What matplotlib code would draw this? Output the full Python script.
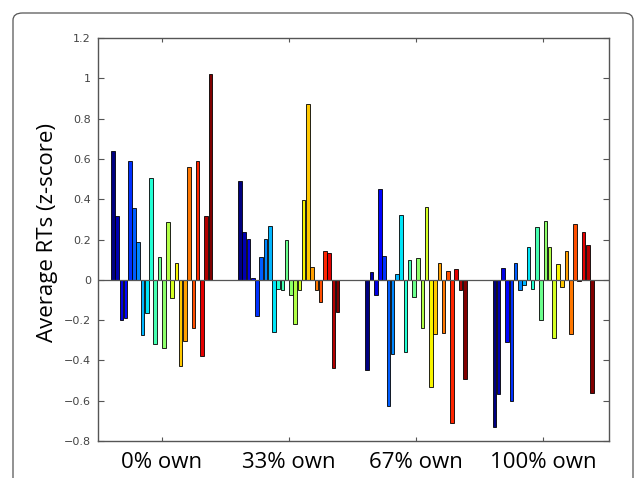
import numpy as np
import matplotlib.pyplot as plt
from matplotlib.patches import FancyBboxPatch

# group labels
groups = ['0% own', '33% own', '67% own', '100% own']

# average RTs (z-score), 24 bars per group
own_0 = [0.64, 0.317, -0.20, -0.19, 0.59, 0.357, 0.19, -0.274, -0.166, 0.503, -0.32, 0.113,
         -0.34, 0.287, -0.09, 0.083, -0.43, -0.305, 0.558, -0.24, 0.59, -0.377, 0.317, 1.02]
own_33 = [0.488, 0.237, 0.204, 0.01, -0.178, 0.113, 0.204, 0.266, -0.26, -0.045, -0.053, 0.20,
          -0.075, -0.22, -0.053, 0.395, 0.873, 0.063, -0.053, -0.108, 0.141, 0.133, -0.438, -0.161]
own_67 = [-0.446, 0.038, -0.073, 0.45, 0.116, -0.627, -0.368, 0.027, 0.324, -0.357, 0.096, -0.083,
          0.108, -0.239, 0.362, -0.534, -0.269, 0.083, -0.266, 0.045, -0.709, 0.055, -0.053, -0.49]
own_100 = [-0.732, -0.569, 0.061, -0.307, -0.602, 0.081, -0.051, -0.027, 0.164, -0.046, 0.264, -0.199,
           0.29, 0.161, -0.29, 0.078, -0.035, 0.141, -0.267, 0.277, -0.005, 0.236, 0.174, -0.563]

data = np.array([own_0, own_33, own_67, own_100])
n_bars = data.shape[1]
colors = plt.cm.jet(np.linspace(0, 1, n_bars))

fig = plt.figure(figsize=(6.35, 4.78), dpi=100)

# rounded frame around the figure
frame = FancyBboxPatch((13 / 635, -0.1), (633 - 13) / 635, 1.1 - 13 / 478,
                       boxstyle='round,pad=0,rounding_size=0.015',
                       transform=fig.transFigure, facecolor='none',
                       edgecolor='#555555', linewidth=0.9, clip_on=False)
fig.patches.append(frame)

ax = fig.add_axes([98 / 635, 1 - 441 / 478, (608.7 - 98) / 635, (441 - 38) / 478])

pitch = 0.8 / n_bars
x = np.arange(1, len(groups) + 1)
for i in range(n_bars):
    offs = (i - (n_bars - 1) / 2) * pitch
    ax.bar(x + offs, data[:, i], width=pitch * 0.85, color=colors[i],
           edgecolor='black', linewidth=0.6)

ax.axhline(0, color='#555555', linewidth=0.9)
ax.set_xlim(0.5, 4.515)
ax.set_ylim(-0.8, 1.2)
ax.set_yticks(np.arange(-0.8, 1.21, 0.2))
ax.set_yticklabels(['\u22120.8', '\u22120.6', '\u22120.4', '\u22120.2', '0', '0.2', '0.4', '0.6', '0.8', '1', '1.2'])
ax.set_xticks(x)
ax.set_xticklabels(groups, fontsize=16, family='Open Sans')
ax.tick_params(axis='x', direction='in', top=True, length=3, pad=8, color='#555555')
ax.tick_params(axis='y', direction='in', right=True, length=4, pad=5, labelsize=8,
               labelcolor='#444444', color='#555555')
for s in ax.spines.values():
    s.set_color('#555555')
    s.set_linewidth(1.0)

fig.text(48 / 635, 1 - 232 / 478, 'Average RTs (z-score)', rotation=90, fontsize=16,
         family='Open Sans', ha='center', va='center')

plt.savefig('out.png', dpi=100)
